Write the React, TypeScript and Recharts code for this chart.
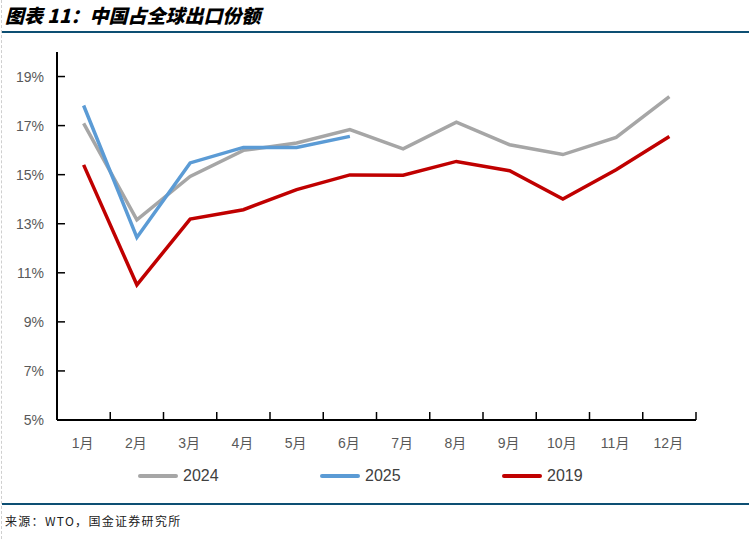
import React from 'react';
import { LineChart, Line, XAxis, YAxis } from 'recharts';

const months = ['1月', '2月', '3月', '4月', '5月', '6月', '7月', '8月', '9月', '10月', '11月', '12月'];
const s2024 = [17.09, 13.16, 14.93, 15.99, 16.29, 16.84, 16.05, 17.14, 16.22, 15.82, 16.52, 18.18];
const s2025: (number | null)[] = [17.82, 12.44, 15.48, 16.11, 16.11, 16.56, null, null, null, null, null, null];
const s2019 = [15.4, 10.51, 13.19, 13.57, 14.39, 14.99, 14.98, 15.54, 15.16, 14.01, 15.2, 16.56];
const yTicks = [5, 7, 9, 11, 13, 15, 17, 19];
const yDomain = [5, 20];

const series = [
  { key: 'y2024', name: '2024', color: '#A6A6A6' },
  { key: 'y2025', name: '2025', color: '#5B9BD5' },
  { key: 'y2019', name: '2019', color: '#C00000' },
];

const data = months.map((m, i) => ({ month: m, y2024: s2024[i], y2025: s2025[i], y2019: s2019[i] }));

const W = 749;
const H = 460;
const M = { top: 52, right: 53, bottom: 10, left: 7 };
const YW = 50;
const AXIS_X = M.left + YW;
const AXIS_Y = H - M.bottom - 30;
const BAND = (W - M.right - AXIS_X) / months.length;
const LABEL_FONT = '"Liberation Sans", Arial, "Noto Sans CJK SC", sans-serif';

const YTick = (props: any) => {
  const { y, payload } = props;
  return (
    <g>
      <line x1={AXIS_X} x2={AXIS_X + 8} y1={y} y2={y} stroke="#000" strokeWidth={1.5} />
      <text x={AXIS_X - 13} y={y} dy="0.36em" textAnchor="end" fontSize={14} fill="#595959" fontFamily={LABEL_FONT}>
        {payload.value}%
      </text>
    </g>
  );
};

const XTick = (props: any) => {
  const { x, payload, index } = props;
  const isLast = index === months.length - 1;
  return (
    <g>
      {index > 0 && (
        <line x1={x - BAND / 2} x2={x - BAND / 2} y1={AXIS_Y} y2={AXIS_Y - 8} stroke="#000" strokeWidth={1.5} />
      )}
      {isLast && (
        <line x1={x + BAND / 2} x2={x + BAND / 2} y1={AXIS_Y} y2={AXIS_Y - 8} stroke="#000" strokeWidth={1.5} />
      )}
      <text x={x - 1} y={AXIS_Y + 28} textAnchor="middle" fontSize={14} fill="#595959" fontFamily={LABEL_FONT}>
        {payload.value}
      </text>
    </g>
  );
};

export default function App() {
  return (
    <div style={{ position: 'absolute', left: 0, top: 0, width: 749, height: 539, background: '#fff', overflow: 'hidden' }}>
      <div style={{ position: 'absolute', left: 1, top: 0, height: 539, borderLeft: '1px dashed #cfcfcf' }} />
      <div
        style={{
          position: 'absolute',
          left: 5,
          top: 3,
          fontFamily: '"Noto Sans CJK SC", sans-serif',
          fontWeight: 900,
          fontStyle: 'italic',
          fontSize: 19,
          letterSpacing: 0,
          color: '#000',
          whiteSpace: 'nowrap',
          lineHeight: '24px',
        }}
      >
        图表 11：中国占全球出口份额
      </div>
      <div style={{ position: 'absolute', left: 2, right: 0, top: 31, height: 2, background: '#0D4F73' }} />
      <div style={{ position: 'absolute', left: 0, top: 0 }}>
        <LineChart width={W} height={H} data={data} margin={M}>
          <XAxis
            dataKey="month"
            tick={XTick}
            tickLine={false}
            tickSize={0}
            height={30}
            interval={0}
            padding={{ left: BAND / 2, right: BAND / 2 }}
            axisLine={{ stroke: '#000', strokeWidth: 2 }}
          />
          <YAxis
            domain={yDomain}
            ticks={yTicks}
            type="number"
            width={YW}
            tick={YTick}
            tickLine={false}
            tickSize={0}
            interval={0}
            axisLine={{ stroke: '#000', strokeWidth: 2 }}
            allowDataOverflow
          />
          {series.map((s) => (
            <Line
              key={s.key}
              type="linear"
              dataKey={s.key}
              name={s.name}
              stroke={s.color}
              strokeWidth={3.5}
              dot={false}
              activeDot={false}
              isAnimationActive={false}
              connectNulls={false}
            />
          ))}
        </LineChart>
      </div>
      {series.map((s, i) => (
        <div
          key={s.key}
          style={{
            position: 'absolute',
            left: 138 + i * 182,
            top: 465,
            height: 22,
            display: 'flex',
            alignItems: 'center',
            fontFamily: LABEL_FONT,
            fontSize: 16,
            color: '#404040',
          }}
        >
          <span style={{ display: 'inline-block', width: 40, height: 4, borderRadius: 2, background: s.color, marginRight: 5 }} />
          <span>{s.name}</span>
        </div>
      ))}
      <div style={{ position: 'absolute', left: 2, right: 0, top: 503, height: 2, background: '#0D4F73' }} />
      <div
        style={{
          position: 'absolute',
          left: 5,
          top: 512,
          fontFamily: '"Noto Sans CJK SC", sans-serif',
          fontSize: 12,
          letterSpacing: 1.3,
          color: '#222',
          whiteSpace: 'nowrap',
          lineHeight: '18px',
        }}
      >
        来源：WTO，国金证券研究所
      </div>
    </div>
  );
}
